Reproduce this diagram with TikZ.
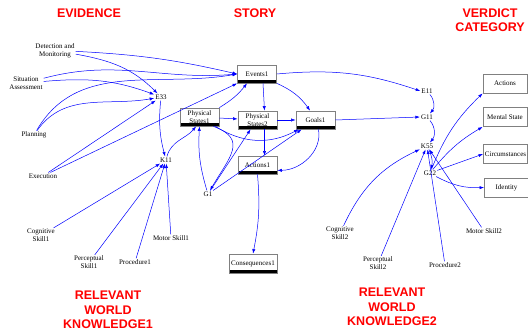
\documentclass[tikz,border=0pt]{standalone}
\usepackage{fontspec}
\setmainfont{Liberation Serif}
\newfontfamily\titlefont{Liberation Sans}
\usetikzlibrary{arrows.meta}
\begin{document}
\begin{tikzpicture}[x=1pt,y=1pt,
  lbl/.style={font=\fontsize{7}{8}\selectfont, inner sep=1pt, align=center},
  title/.style={font=\titlefont\bfseries\fontsize{12.5}{14.5}\selectfont, text=red, align=center},
  storybox/.style={lbl, draw=gray, line width=0.8pt, fill=white, minimum width=39pt, minimum height=18pt,
    path picture={\fill[black] ([yshift=2.8pt]path picture bounding box.south west) rectangle (path picture bounding box.south east);}},
  catbox/.style={lbl, draw=gray, line width=0.8pt, fill=white, minimum width=44pt, minimum height=19pt},
  link/.style={draw=blue, line width=0.5pt, -{Latex[length=4.5pt,width=3.2pt]}}]
\useasboundingbox (0,0) rectangle (528,335);
% titles
\node[title] (evid) at (89,322) {EVIDENCE};
\node[title] (story) at (255,322) {STORY};
\node[title] (verd) at (490,315) {VERDICT\\CATEGORY};
\node[title] (rwk1) at (108,25) {RELEVANT\\WORLD\\KNOWLEDGE1};
\node[title] (rwk2) at (392,28) {RELEVANT\\WORLD\\KNOWLEDGE2};
% evidence
\node[lbl] (det) at (55,284.5) {Detection and\\Monitoring};
\node[lbl] (sit) at (26,252) {Situation\\Assessment};
\node[lbl] (plan) at (34,200) {Planning};
\node[lbl] (exec) at (43,159) {Execution};
\node[lbl] (e33) at (161,238) {E33};
\node[lbl] (k11) at (166,175) {K11};
\node[lbl] (cog1) at (41,99.5) {Cognitive\\Skill1};
\node[lbl] (perc1) at (89,72.5) {Perceptual\\Skill1};
\node[lbl] (proc1) at (135,73) {Procedure1};
\node[lbl] (mot1) at (171,97) {Motor Skill1};
% story
\node[storybox] (ev1) at (257,261) {Events1};
\node[storybox] (ps1) at (199.5,218) {Physical\\States1};
\node[storybox] (ps2) at (257.5,215) {Physical\\States2};
\node[storybox] (goals1) at (315.5,215) {Goals1};
\node[storybox] (act1) at (257.5,170) {Actions1};
\node[lbl] (g1) at (208,141) {G1};
\node[storybox, minimum width=48pt, minimum height=19pt] (cons1) at (253,71.5) {Consequences1};
% verdict side
\node[lbl] (e11) at (427,244) {E11};
\node[lbl] (g11) at (427,218) {G11};
\node[lbl] (k55) at (427,189) {K55};
\node[lbl] (g22) at (430,162) {G22};
\node[catbox] (actions) at (505,251.5) {Actions};
\node[catbox] (mental) at (505,218) {Mental State};
\node[catbox] (circ) at (505.5,181) {Circumstances};
\node[catbox] (ident) at (506.5,147.5) {Identity};
\node[lbl] (cog2) at (340,101.5) {Cognitive\\Skill2};
\node[lbl] (perc2) at (378,71.5) {Perceptual\\Skill2};
\node[lbl] (proc2) at (445,70) {Procedure2};
\node[lbl] (mot2) at (484,104) {Motor Skill2};
% evidence links
\draw[link] (det) to[bend left=5] (ev1.west);
\draw[link] (det) to[out=-10,in=135] (e33);
\draw[link] (sit) to[out=15,in=185] (ev1.west);
\draw[link] (sit) to[out=5,in=160] (e33);
\draw[link] (plan) to[out=60,in=190] (ev1.west);
\draw[link] (plan) to[out=55,in=190] (e33);
\draw[link] (exec) -- (ev1.south west);
\draw[link] (exec) -- (e33);
\draw[link] (e33) to[bend right=10] (k11);
\draw[link] (k11) to[out=75,in=230] (ps1.250);
\draw[link] (cog1) -- (k11);
\draw[link] (perc1) -- (k11);
\draw[link] (proc1) -- (k11);
\draw[link] (mot1) -- (k11);
% story links
\draw[link] (ps1.north east) to[bend right=10] ([xshift=-10pt]ev1.south);
\draw[link] (ps1) -- (ps2);
\draw[link] ([xshift=6pt]ev1.south) -- ([xshift=7pt]ps2.north);
\draw[link] (ev1.south east) to[bend left=15] (goals1.120);
\draw[link] (ev1.east) to[bend left=12] (e11.west);
\draw[link] (ps2) -- (goals1);
\draw[link] ([xshift=7pt]ps2.south) -- ([xshift=7pt]act1.north);
\draw[link] ([xshift=3pt]goals1.south) to[out=-80,in=0] (act1.-15);
\draw[link] (goals1.east) -- (g11.west);
\draw[link] (act1.south) to[bend left=8] (cons1.north);
\draw[link] (g1) to[bend left=10] (ps1.south);
\draw[link] (g1) -- ([xshift=-7pt]ps2.south);
\draw[link] (g1) -- ([xshift=6pt]goals1.south west);
\draw[link] ([xshift=-4pt]ps1.south east) to[bend right=30] ([xshift=3pt]goals1.south west);
\draw[link] ([xshift=-6pt]ps1.south east) to[out=-20,in=60,looseness=1.5] (g1);
% verdict links
\draw[link] (e11) to[bend left=40] (g11);
\draw[link] (g11) to[bend left=40] (k55);
\draw[link] (cog2) to[bend left=20] (k55);
\draw[link] (perc2) -- (k55);
\draw[link] (proc2) -- (k55);
\draw[link] (mot2) -- (k55);
\draw[link] (k55) to[bend left=20] (g22);
\draw[link] (g22) to[bend left=12] (actions.south west);
\draw[link] (g22) to[bend left=10] (mental.south west);
\draw[link] (g22) -- (circ.west);
\draw[link] (g22) to[bend right=15] (ident.west);
\end{tikzpicture}
\end{document}
